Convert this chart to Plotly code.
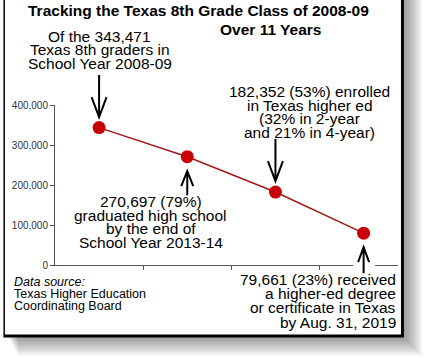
import plotly.graph_objects as go

# ---- data ----
stages = ["8th grade 2008-09", "HS graduates 2013-14", "Enrolled higher ed", "Degree/certificate 2019"]
students = [343471, 270697, 182352, 79661]
y_ticks = [0, 100000, 200000, 300000, 400000]
y_tick_labels = ["0", "100,000", "200,000", "300,000", "400,000"]
title_lines = ["Tracking the Texas 8th Grade Class of 2008-09", "Over 11 Years"]
label_start = ["Of the 343,471", "Texas 8th graders in", "School Year 2008-09"]
label_grad = ["270,697 (79%)", "graduated high school", "by the end of", "School Year 2013-14"]
label_enroll = ["182,352 (53%) enrolled", "in Texas higher ed", "(32% in 2-year", "and 21% in 4-year)"]
label_degree = ["79,661 (23%) received", "a higher-ed degree", "or certificate in Texas", "by Aug. 31, 2019"]
source_lines = ["<i>Data source:</i>", "Texas Higher Education", "Coordinating Board"]

Y_MAX = 400000
W, H = 424, 358
L, R, T, B = 52, 398, 105, 265  # plot area in pixels

def px(x):
    return (x - L) / (R - L)

def py(y):
    return (B - y) / (B - T)

FONT = "Liberation Sans, Arial, Helvetica, sans-serif"
xs = list(range(len(stages)))

fig = go.Figure()
fig.add_trace(go.Scatter(
    x=xs, y=students, mode="lines+markers",
    line=dict(color="#a01818", width=1.5),
    marker=dict(color="#c80008", size=13, line=dict(width=0)),
    hoverinfo="skip", showlegend=False,
))

shapes = []
# drop shadow
for k in range(12):
    shapes.append(dict(type="rect", xref="paper", yref="paper", layer="below",
                       x0=px(4 + k), x1=px(404 + k * 1.7), y0=py(-10), y1=py(337 + k * 1.7),
                       fillcolor="rgba(0,0,0,0.038)", line=dict(width=0)))
# frame
shapes.append(dict(type="rect", xref="paper", yref="paper", layer="below",
                   x0=px(0), x1=px(404), y0=py(-10), y1=py(337.5),
                   fillcolor="black", line=dict(width=0)))
shapes.append(dict(type="rect", xref="paper", yref="paper", layer="below",
                   x0=px(1.5), x1=px(401), y0=py(-10), y1=py(334.5),
                   fillcolor="white", line=dict(width=0)))
# white gap in the x axis where the last arrow crosses
shapes.append(dict(type="rect", xref="x", yref="paper", layer="above",
                   x0=2.88, x1=3.13, y0=py(268), y1=py(262),
                   fillcolor="white", line=dict(width=0)))

# arrows (pixel paths anchored to the data points; positive y = up)
def arrow(i, direction, gap, length, hl, hw):
    s = 1 if direction == "down" else -1  # arrow sits above (down) or below (up) the point
    g, e, h = s * gap, s * (gap + length), s * (gap + hl)
    p = f"M0,{g} L0,{e} M{-hw},{h} L0,{g} L{hw},{h}"
    return dict(type="path", xref="x", yref="y domain", xsizemode="pixel", ysizemode="pixel",
                xanchor=xs[i], yanchor=students[i] / Y_MAX, path=p, layer="above",
                line=dict(color="black", width=2))

shapes.append(arrow(0, "down", 10.5, 42, 20, 7.5))
shapes.append(arrow(1, "up", 14.5, 24, 15, 6))
shapes.append(arrow(2, "down", 11, 42, 20, 7.5))
shapes.append(arrow(3, "up", 14, 26, 15, 5.5))

annotations = []
def add_line(text, x, y, size, xanchor="center", bold=False, color="black"):
    annotations.append(dict(text=f"<b>{text}</b>" if bold else text,
                            xref="paper", yref="paper", x=px(x), y=py(y),
                            xanchor=xanchor, yanchor="middle", showarrow=False,
                            font=dict(family=FONT, size=size, color=color)))

add_line(title_lines[0], 196.5, 10.5, 15.5, bold=True)
add_line(title_lines[1], 269, 29.5, 15.5, bold=True)
for j, t in enumerate(label_start):
    add_line(t, 97, 36.5 + j * 13.4, 15.5)
for j, t in enumerate(label_grad):
    add_line(t, 148.5, 201.5 + j * 13.6, 15.5)
for j, t in enumerate(label_enroll):
    add_line(t, 309, 91.5 + j * 13.6, 15.5)
for j, t in enumerate(label_degree):
    add_line(t, 398, 279.5 + j * 14.2, 15.5, xanchor="right")
for j, t in enumerate(source_lines):
    add_line(t, 9, 282 + j * 12, 12.5, xanchor="left")

fig.update_layout(
    width=W, height=H,
    margin=dict(l=L, r=W - R, t=T, b=H - B, pad=0),
    paper_bgcolor="white", plot_bgcolor="rgba(0,0,0,0)",
    shapes=shapes, annotations=annotations,
    xaxis=dict(range=[-0.5, 3.39], showgrid=False, zeroline=False,
               tickvals=[0.5, 1.5, 2.5], ticktext=["", "", ""], ticks="outside",
               ticklen=4, tickcolor="#555", showline=True, linecolor="#555", linewidth=1,
               fixedrange=True),
    yaxis=dict(range=[0, Y_MAX], showgrid=False, zeroline=False,
               tickvals=y_ticks, ticktext=y_tick_labels, ticks="outside",
               ticklen=4, tickcolor="#555", showline=True, linecolor="#555", linewidth=1,
               tickfont=dict(family=FONT, size=10, color="#333"), fixedrange=True),
    showlegend=False,
)

fig.write_html("out.html", config={"displayModeBar": False},
               post_script="document.body.style.margin='0';")
